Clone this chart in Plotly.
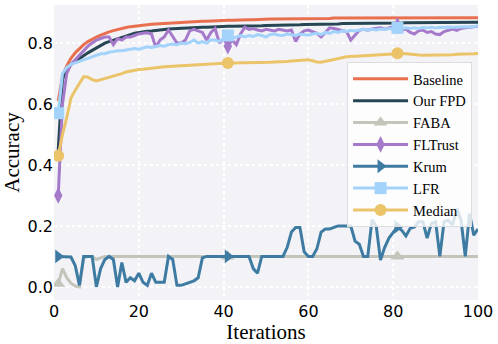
import plotly.graph_objects as go

iterations = list(range(1, 101))

baseline = [
    0.61, 0.69, 0.725, 0.75, 0.768, 0.782, 0.795, 0.805, 0.813, 0.82,
    0.826, 0.832, 0.837, 0.841, 0.845, 0.848, 0.851, 0.854, 0.856, 0.858,
    0.86, 0.861, 0.862, 0.863, 0.864, 0.865, 0.866, 0.867, 0.868, 0.868,
    0.869, 0.87, 0.87, 0.871, 0.872, 0.872, 0.873, 0.873, 0.874, 0.874,
    0.875, 0.875, 0.876, 0.876, 0.877, 0.877, 0.877, 0.878, 0.878, 0.878,
    0.879, 0.879, 0.879, 0.879, 0.88, 0.88, 0.88, 0.88, 0.88, 0.881,
    0.881, 0.881, 0.881, 0.881, 0.881, 0.882, 0.882, 0.882, 0.882, 0.882,
    0.882, 0.882, 0.882, 0.882, 0.882, 0.882, 0.883, 0.883, 0.883, 0.883,
    0.883, 0.883, 0.883, 0.883, 0.883, 0.883, 0.883, 0.883, 0.883, 0.883,
    0.883, 0.883, 0.883, 0.883, 0.883, 0.883, 0.883, 0.883, 0.883, 0.883,
]

our_fpd = [
    0.45, 0.68, 0.715, 0.73, 0.74, 0.75, 0.76, 0.768, 0.776, 0.784,
    0.79, 0.80, 0.805, 0.81, 0.815, 0.82, 0.824, 0.828, 0.832, 0.835,
    0.837, 0.839, 0.84, 0.842, 0.843, 0.845, 0.846, 0.847, 0.848, 0.849,
    0.85, 0.85, 0.851, 0.851, 0.852, 0.852, 0.853, 0.853, 0.854, 0.854,
    0.855, 0.855, 0.855, 0.856, 0.856, 0.856, 0.857, 0.857, 0.857, 0.858,
    0.858, 0.858, 0.859, 0.859, 0.859, 0.86, 0.86, 0.86, 0.861, 0.861,
    0.861, 0.862, 0.862, 0.862, 0.863, 0.863, 0.863, 0.864, 0.864, 0.864,
    0.864, 0.865, 0.865, 0.865, 0.865, 0.865, 0.866, 0.866, 0.866, 0.866,
    0.866, 0.866, 0.867, 0.867, 0.867, 0.867, 0.867, 0.867, 0.867, 0.867,
    0.868, 0.868, 0.868, 0.868, 0.868, 0.868, 0.868, 0.868, 0.868, 0.868,
]

faba = [
    0.01, 0.06, 0.03, 0.012, 0.003, 0.0, 0.095, 0.10, 0.10, 0.09,
    0.095, 0.10, 0.10, 0.10, 0.10, 0.10, 0.10, 0.10, 0.10, 0.10,
] + [0.10] * 80

fltrust = [
    0.30, 0.60, 0.70, 0.73, 0.745, 0.76, 0.775, 0.79, 0.80, 0.81,
    0.815, 0.82, 0.82, 0.795, 0.815, 0.81, 0.82, 0.82, 0.825, 0.83,
    0.832, 0.834, 0.83, 0.786, 0.81, 0.82, 0.843, 0.82, 0.80, 0.80,
    0.81, 0.84, 0.845, 0.84, 0.835, 0.81, 0.835, 0.848, 0.80, 0.815,
    0.79, 0.81, 0.795, 0.83, 0.852, 0.845, 0.848, 0.843, 0.84, 0.845,
    0.843, 0.84, 0.845, 0.843, 0.84, 0.843, 0.805, 0.83, 0.84, 0.843,
    0.838, 0.832, 0.82, 0.836, 0.85, 0.848, 0.845, 0.843, 0.838, 0.81,
    0.828, 0.842, 0.845, 0.842, 0.846, 0.848, 0.85, 0.846, 0.85, 0.855,
    0.858, 0.843, 0.846, 0.835, 0.83, 0.84, 0.843, 0.835, 0.838, 0.83,
    0.828, 0.838, 0.843, 0.846, 0.842, 0.848, 0.85, 0.852, 0.853, 0.855,
]

krum = [
    0.10, 0.10, 0.10, 0.098, 0.07, 0.005, 0.10, 0.10, 0.10, 0.0,
    0.06, 0.09, 0.10, 0.09, 0.0, 0.08, 0.015, 0.03, 0.02, 0.045,
    0.015, 0.005, 0.045, 0.015, 0.015, 0.015, 0.10, 0.09, 0.005, 0.005,
    0.01, 0.015, 0.02, 0.03, 0.095, 0.10, 0.10, 0.10, 0.10, 0.10,
    0.10, 0.10, 0.10, 0.10, 0.10, 0.10, 0.06, 0.045, 0.10, 0.10,
    0.10, 0.10, 0.10, 0.10, 0.13, 0.18, 0.195, 0.195, 0.115, 0.10,
    0.10, 0.125, 0.18, 0.19, 0.19, 0.195, 0.20, 0.20, 0.20, 0.20,
    0.15, 0.14, 0.10, 0.10, 0.22, 0.20, 0.088, 0.13, 0.16, 0.18,
    0.197, 0.186, 0.167, 0.192, 0.197, 0.214, 0.214, 0.16, 0.208, 0.214,
    0.10, 0.214, 0.219, 0.203, 0.257, 0.219, 0.10, 0.24, 0.17, 0.19,
]

lfr = [
    0.57, 0.70, 0.72, 0.73, 0.735, 0.74, 0.745, 0.75, 0.755, 0.76,
    0.765, 0.765, 0.77, 0.772, 0.775, 0.775, 0.778, 0.78, 0.782, 0.78,
    0.785, 0.788, 0.786, 0.79, 0.792, 0.79, 0.795, 0.797, 0.795, 0.80,
    0.798, 0.802, 0.81, 0.80, 0.805, 0.80, 0.81, 0.81, 0.805, 0.815,
    0.825, 0.815, 0.82, 0.825, 0.82, 0.825, 0.822, 0.828, 0.825, 0.82,
    0.828, 0.83, 0.826, 0.825, 0.83, 0.828, 0.825, 0.83, 0.828, 0.826,
    0.83, 0.832, 0.828, 0.835, 0.832, 0.838, 0.835, 0.84, 0.838, 0.842,
    0.84, 0.843, 0.845, 0.842, 0.845, 0.843, 0.846, 0.845, 0.848, 0.846,
    0.85, 0.847, 0.85, 0.848, 0.85, 0.848, 0.851, 0.85, 0.852, 0.85,
    0.852, 0.851, 0.853, 0.852, 0.853, 0.852, 0.854, 0.853, 0.855, 0.856,
]

median = [
    0.43, 0.50, 0.555, 0.62, 0.645, 0.67, 0.69, 0.688, 0.68, 0.676,
    0.68, 0.683, 0.686, 0.69, 0.695, 0.70, 0.705, 0.708, 0.711, 0.713,
    0.714, 0.716, 0.718, 0.72, 0.721, 0.722, 0.723, 0.724, 0.725, 0.726,
    0.727, 0.728, 0.728, 0.729, 0.73, 0.73, 0.731, 0.732, 0.733, 0.734,
    0.735, 0.735, 0.735, 0.736, 0.736, 0.736, 0.736, 0.737, 0.737, 0.737,
    0.737, 0.738, 0.738, 0.739, 0.74, 0.741, 0.742, 0.743, 0.744, 0.745,
    0.742, 0.738, 0.737, 0.74, 0.744, 0.748, 0.751, 0.754, 0.755, 0.756,
    0.757, 0.758, 0.759, 0.76, 0.761, 0.762, 0.763, 0.764, 0.765, 0.766,
    0.767, 0.766, 0.765, 0.763, 0.762, 0.761, 0.76, 0.76, 0.76, 0.76,
    0.76, 0.76, 0.761, 0.762, 0.763, 0.763, 0.764, 0.765, 0.765, 0.766,
]

series = [
    ("Baseline", baseline, "#e8704f", None),
    ("Our FPD", our_fpd, "#264653", None),
    ("FABA", faba, "#c3c5bb", "triangle-up"),
    ("FLTrust", fltrust, "#a57acb", "diamond-tall"),
    ("Krum", krum, "#3e7ba2", "triangle-right"),
    ("LFR", lfr, "#a3d2fb", "square"),
    ("Median", median, "#ebc46a", "circle"),
]

# markers only every 40 points
marker_idx = [0, 40, 80]

fig = go.Figure()
for name, vals, color, symbol in series:
    if symbol is None:
        fig.add_trace(go.Scatter(x=iterations, y=vals, name=name, mode="lines",
                                 line=dict(color=color, width=3)))
    else:
        fig.add_trace(go.Scatter(
            x=iterations, y=vals, name=name, mode="lines+markers",
            line=dict(color=color, width=3),
            marker=dict(symbol=symbol, size=12, color=color),
            selectedpoints=marker_idx,
            selected=dict(marker=dict(opacity=1)),
            unselected=dict(marker=dict(opacity=0)),
        ))

fig.update_layout(
    width=498, height=344,
    margin=dict(l=54, r=20, t=5, b=44),
    paper_bgcolor="white",
    plot_bgcolor="#f3f3f7",
    font=dict(family="DejaVu Sans", size=16, color="black"),
    showlegend=True,
    legend=dict(
        x=0.986, y=0.807, xanchor="right", yanchor="top",
        bgcolor="rgba(255,255,255,0.8)", bordercolor="#dddddd", borderwidth=1,
        font=dict(family="Liberation Serif", size=14.5, color="black"),
        itemwidth=55, tracegroupgap=0,
    ),
)
fig.update_xaxes(
    range=[0, 100], tickvals=[0, 20, 40, 60, 80, 100],
    showgrid=True, gridcolor="white", griddash="dot", gridwidth=1.5,
    zeroline=False, showline=False, ticks="", automargin=False,
    title=dict(text="Iterations", font=dict(family="Liberation Serif", size=21), standoff=0),
)
fig.update_yaxes(
    range=[-0.043, 0.925], tickvals=[0, 0.2, 0.4, 0.6, 0.8], tickformat=".1f",
    showgrid=True, gridcolor="white", griddash="dot", gridwidth=1.5,
    zeroline=False, showline=False, ticks="", automargin=False,
    title=dict(text="Accuracy", font=dict(family="Liberation Serif", size=21), standoff=4),
)

fig.write_html("out.html", config={"displayModeBar": False},
               post_script="document.body.style.margin='0px';")
